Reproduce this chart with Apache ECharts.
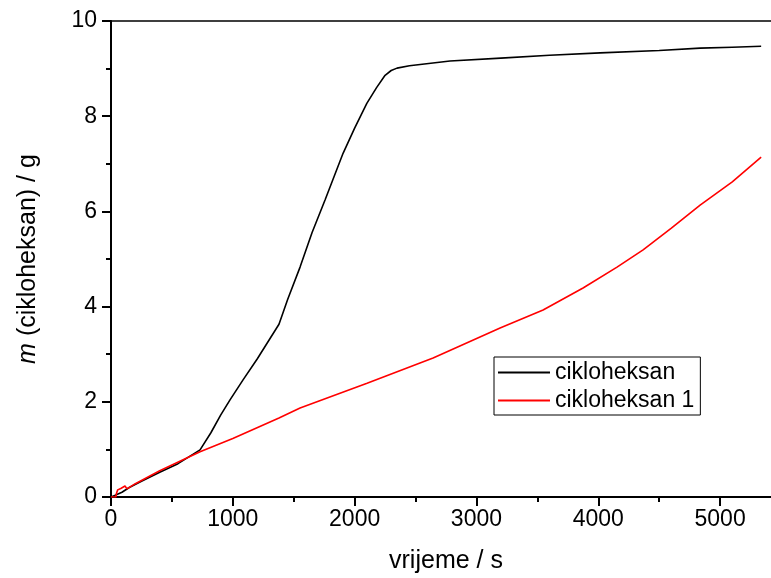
<!DOCTYPE html>
<html>
<head>
<meta charset="utf-8">
<script src="https://cdn.jsdelivr.net/npm/echarts@6/dist/echarts.min.js"></script>
<style>html,body{margin:0;padding:0;background:#fff}#c{width:771px;height:578px}</style>
</head>
<body>
<div id="c"></div>
<script>
var seriesNames = ['cikloheksan', 'cikloheksan 1'];
var blackT = [0, 30, 90, 150, 250, 400, 550, 731, 820, 900, 977, 1084, 1200, 1379, 1450, 1552, 1650, 1757, 1905, 2000, 2100, 2180, 2250, 2300, 2348, 2450, 2783, 3200, 3600, 4015, 4500, 4836, 5100, 5337];
var blackM = [0, 0.03, 0.1, 0.2, 0.33, 0.52, 0.7, 0.99, 1.35, 1.72, 2.04, 2.46, 2.9, 3.63, 4.15, 4.83, 5.55, 6.24, 7.22, 7.75, 8.27, 8.6, 8.86, 8.96, 9.01, 9.06, 9.16, 9.22, 9.28, 9.33, 9.38, 9.43, 9.45, 9.47];
var redT = [0, 40, 45, 55, 80, 115, 131, 200, 400, 731, 1000, 1379, 1552, 2102, 2644, 3194, 3547, 3875, 4154, 4368, 4600, 4836, 5100, 5337];
var redM = [0, 0, 0.08, 0.15, 0.18, 0.23, 0.17, 0.28, 0.55, 0.95, 1.23, 1.66, 1.87, 2.39, 2.92, 3.55, 3.93, 4.39, 4.83, 5.19, 5.65, 6.13, 6.62, 7.14];
var xTicks = [0, 1000, 2000, 3000, 4000, 5000];
var yTicks = [0, 2, 4, 6, 8, 10];

function zip(a, b) { return a.map(function (v, i) { return [v, b[i]]; }); }
var FONT = "'Liberation Sans', Arial, sans-serif";
var chart = echarts.init(document.getElementById('c'));
chart.setOption({
  animation: false,
  grid: { left: 111, top: 21, width: 670, bottom: 81, outerBoundsMode: 'none', containLabel: false,
    show: true, borderColor: '#000', borderWidth: 1.5, backgroundColor: 'transparent' },
  legend: {
    orient: 'vertical', left: 494, top: 357,
    data: seriesNames,
    icon: 'rect', itemWidth: 52, itemHeight: 2, itemGap: 3,
    padding: [3, 6, 2, 4],
    borderColor: '#000', borderWidth: 1,
    textStyle: { fontFamily: FONT, fontSize: 23, color: '#000', lineHeight: 25 }
  },
  xAxis: {
    type: 'value', min: 0, max: 5500, interval: 1000,
    name: 'vrijeme / s', nameLocation: 'middle', nameGap: 52,
    nameTextStyle: { fontFamily: FONT, fontSize: 25, color: '#000' },
    axisLine: { lineStyle: { color: '#000', width: 2 } },
    axisTick: { length: 9, lineStyle: { color: '#000', width: 2 } },
    minorTick: { show: true, splitNumber: 2, length: 5, lineStyle: { color: '#000', width: 2 } },
    splitLine: { show: false },
    axisLabel: { fontFamily: FONT, fontSize: 23, color: '#000', margin: 11,
      formatter: function (v) { return xTicks.indexOf(v) >= 0 ? String(v) : ''; } }
  },
  yAxis: {
    type: 'value', min: 0, max: 10, interval: 2,
    name: '{i|m} (cikloheksan) / g', nameLocation: 'middle', nameGap: 70, nameRotate: 90,
    nameTextStyle: { fontFamily: FONT, fontSize: 25, color: '#000',
      rich: { i: { fontFamily: FONT, fontSize: 25, fontStyle: 'italic', color: '#000' } } },
    axisLine: { show: true, lineStyle: { color: '#000', width: 2 } },
    axisTick: { show: true, length: 9, lineStyle: { color: '#000', width: 2 } },
    minorTick: { show: true, splitNumber: 2, length: 5, lineStyle: { color: '#000', width: 2 } },
    splitLine: { show: false },
    axisLabel: { fontFamily: FONT, fontSize: 23, color: '#000', margin: 14,
      formatter: function (v) { return yTicks.indexOf(v) >= 0 ? String(v) : ''; } }
  },
  series: [
    { name: seriesNames[0], type: 'line', data: zip(blackT, blackM), symbol: 'none', smooth: false,
      lineStyle: { color: '#000', width: 1.6 }, itemStyle: { color: '#000' } },
    { name: seriesNames[1], type: 'line', data: zip(redT, redM), symbol: 'none', smooth: false,
      lineStyle: { color: '#ff0000', width: 1.6 }, itemStyle: { color: '#ff0000' } }
  ]
});
</script>
</body>
</html>
